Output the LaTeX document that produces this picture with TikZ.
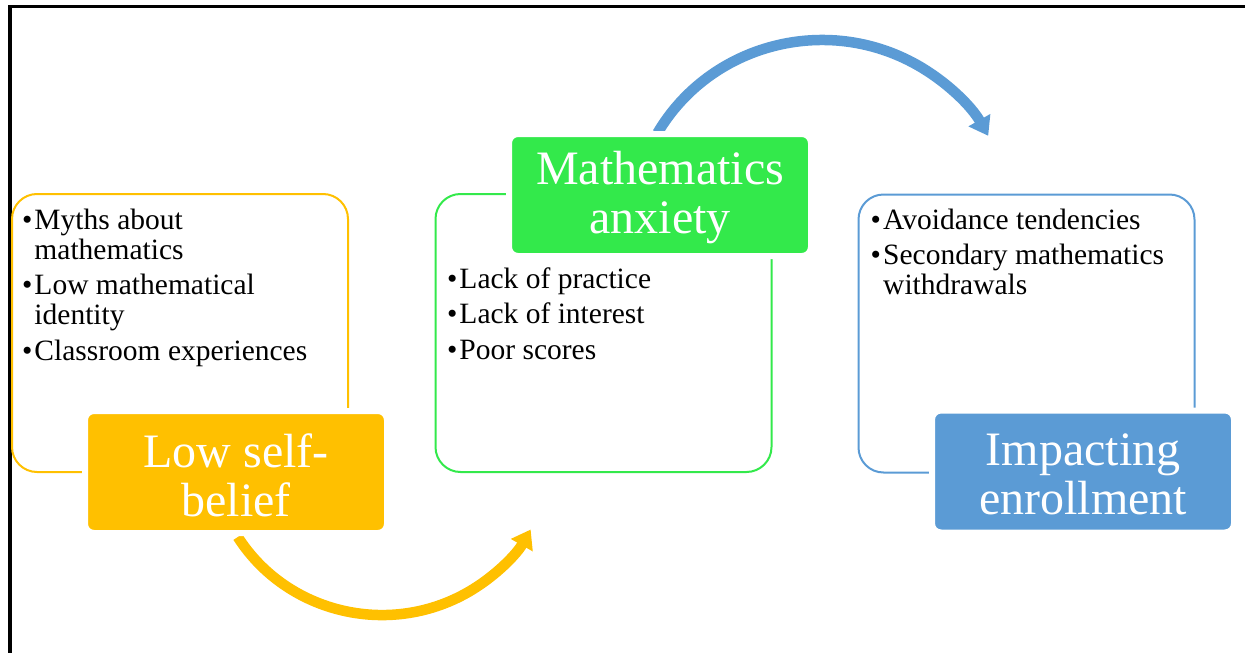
\documentclass[tikz,border=0pt]{standalone}
\usepackage{fontspec}
\setmainfont{Liberation Serif}
\usetikzlibrary{arrows.meta}
\definecolor{cyel}{HTML}{FFC000}
\definecolor{cgrn}{HTML}{33E94B}
\definecolor{cblu}{HTML}{5B9BD5}
\newcommand{\bitem}{\makebox[12.5pt][l]{\textbullet}}
\begin{document}
\begin{tikzpicture}[x=1pt,y=-1pt,
  outline/.style={draw=#1, line width=2pt, rounded corners=25pt, minimum width=336pt, minimum height=278pt, inner sep=0pt},
  titlebox/.style={fill=#1, draw=white, line width=6pt, rounded corners=9pt, minimum width=302pt, minimum height=122pt, inner sep=0pt},
  titletext/.style={text=white, align=center, font=\fontsize{48}{49}\selectfont, yshift=-3pt},
  bullets/.style={anchor=base west, inner sep=0pt, font=\fontsize{29.5}{30}\selectfont},
  flowarrow/.style={draw=#1, line width=10.5pt, -{Triangle[width=24pt,length=18pt]}}]
\useasboundingbox (0,0) rectangle (1245,653);
\draw[line width=3.3pt] (10,653) -- (10,6.7) -- (1245,6.7);

% outline boxes
\node[outline=cyel] (yout) at (180,333) {};
\node[outline=cgrn] (gout) at (603.5,333) {};
\node[outline=cblu] (bout) at (1026.5,333.5) {};

% arrows
\coordinate (ys) at (237.8,537);
\draw[flowarrow=cyel] (ys) arc[start angle=148, end angle=29, x radius=170, y radius=166];
\coordinate (bs) at (657.5,133);
\draw[flowarrow=cblu] (bs) arc[start angle=210, end angle=331, x radius=190, y radius=186];

% bullet lists
\node[bullets] (ylist) at (21.8,229) {\begin{tabular}[t]{@{}l@{}l@{}}
\bitem & Myths about\\
 & mathematics\\[5.5pt]
\bitem & Low mathematical\\
 & identity\\[5.5pt]
\bitem & Classroom experiences
\end{tabular}};
\node[bullets] (glist) at (446.8,288) {\begin{tabular}[t]{@{}l@{}l@{}}
\bitem & Lack of practice\\[5.5pt]
\bitem & Lack of interest\\[5.5pt]
\bitem & Poor scores
\end{tabular}};
\node[bullets] (blist) at (870.5,229) {\begin{tabular}[t]{@{}l@{}l@{}}
\bitem & Avoidance tendencies\\[5.5pt]
\bitem & Secondary mathematics\\
 & withdrawals
\end{tabular}};

% title boxes
\node[titlebox=cyel, label={[titletext]center:Low self-\\belief}] (ylow) at (236,472) {};
\node[titlebox=cgrn, label={[titletext]center:Mathematics\\anxiety}] (gmath) at (660,195) {};
\node[titlebox=cblu, label={[titletext]center:Impacting\\enrollment}] (bimp) at (1083,471.5) {};
\end{tikzpicture}
\end{document}
